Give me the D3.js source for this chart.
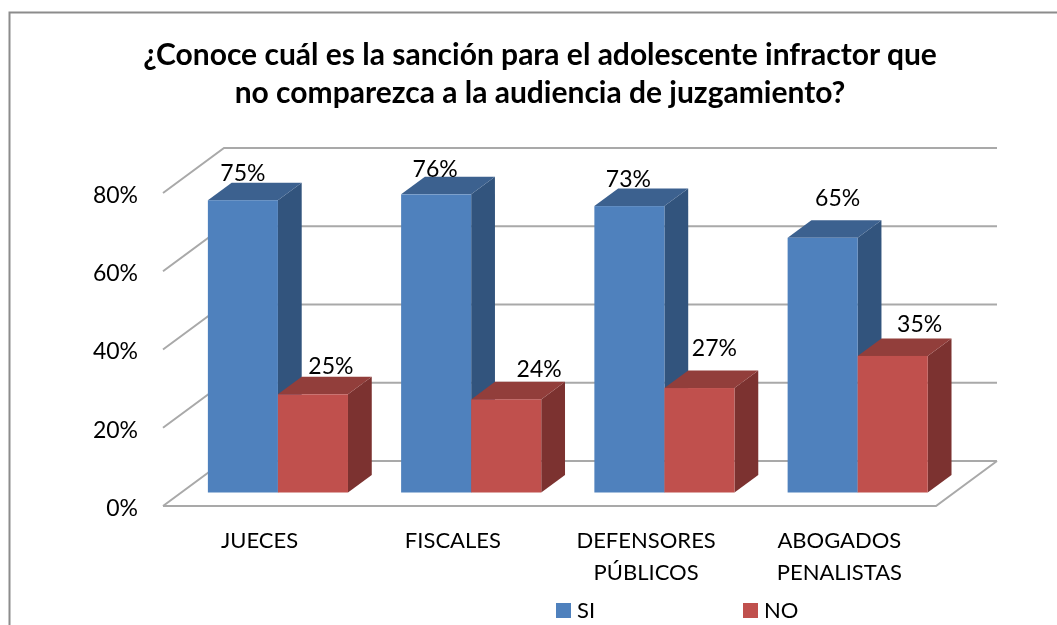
<!DOCTYPE html>
<html>
<head>
<meta charset="utf-8">
<script src="https://cdn.jsdelivr.net/npm/d3@7"></script>
<style>
    html, body { margin: 0; background: #fff; }
    svg { display: block; font-family: Lato, "Open Sans", sans-serif; filter: blur(0.4px); }
</style>
</head>
<body>
<div id="container"></div>
<script>
const titleLines = ["¿Conoce cuál es la sanción para el adolescente infractor que",
    "no comparezca a la audiencia de juzgamiento?"];
const categories = ["JUECES", "FISCALES", "DEFENSORES PÚBLICOS", "ABOGADOS PENALISTAS"];
const categoryLines = [["JUECES"], ["FISCALES"], ["DEFENSORES", "PÚBLICOS"], ["ABOGADOS", "PENALISTAS"]];
const seriesNames = ["SI", "NO"];
// the labels show them rounded
const siValues = [74.7, 76.2, 73.2, 65.1];
const noValues = [25.1, 23.8, 26.7, 34.9];
const tickValues = [0, 20, 40, 60, 80];

// colours per series: front, top, side
const faces = {
    SI: ["#4f81bd", "#3c618f", "#32547d"],
    NO: ["#c0504d", "#923e3b", "#7c3230"]
};

// labels were moved by hand in the original, so each one has its own nudge from the bar top
const labelNudge = {
    SI: [[35, -18], [34, -18], [34, -20], [50, -32]],
    NO: [[53, -21], [68, -22], [50, -31], [62, -24]]
};

const width = 1057, height = 625;
const x0 = 163, x1 = 936, y0 = 506, y80 = 193;
const depthX = 61, depthY = 45;
const barFront = 0.30, barBack = 0.69;

const x = d3.scaleBand().domain(categories).range([x0, x1]);
const y = d3.scaleLinear().domain([0, 80]).range([y0, y80]);

// d is the position in the depth of the floor, 0 front and 1 back
function px(v, d) { return v + d * depthX; }
function py(v, d) { return y(v) - d * depthY; }

function poly(points) {
    return points.map(p => p.join(",")).join(" ");
}

const svg = d3.select("div#container").append("svg")
    .attr("width", width)
    .attr("height", height)
    .attr("viewBox", [0, 0, width, height]);

svg.append("path")
    .attr("d", "M9.5,625V12.5H1057")
    .attr("fill", "none")
    .attr("stroke", "#8c8c8c")
    .attr("stroke-width", 2);

svg.append("g")
    .attr("font-size", 30)
    .attr("font-weight", 700)
    .attr("text-anchor", "middle")
    .selectAll("text")
    .data(titleLines)
    .join("text")
    .attr("x", 540)
    .attr("y", (d, i) => 65 + i * 38)
    .text(d => d);

const grid = svg.append("g")
    .attr("fill", "none")
    .attr("stroke", "#a9a9a9")
    .attr("stroke-width", 2);

grid.selectAll("polyline")
    .data(tickValues)
    .join("polyline")
    .attr("points", d => poly([[px(x0, 0), py(d, 0)], [px(x0, 1), py(d, 1)], [px(x1, 1), py(d, 1)]]));

// floor front edge and right side
grid.append("polyline")
    .attr("points", poly([[px(x0, 0), py(0, 0)], [px(x1, 0), py(0, 0)], [px(x1, 1), py(0, 1)]]));

const axisY = d3.axisLeft(y)
    .tickValues(tickValues)
    .tickFormat(d => d + "%")
    .tickSize(0)
    .tickPadding(25);

svg.append("g")
    .attr("transform", `translate(${x0},2)`)
    .call(axisY)
    .call(g => g.select(".domain").remove())
    .selectAll("text")
    .attr("font-family", "Lato, 'Open Sans', sans-serif")
    .attr("font-size", 23)
    .attr("fill", "#000");

const catLabels = svg.append("g")
    .attr("font-size", 22)
    .attr("text-anchor", "middle")
    .selectAll("text")
    .data(categories)
    .join("text")
    .attr("x", d => x(d) + x.bandwidth() / 2);

catLabels.selectAll("tspan")
    .data((d, i) => categoryLines[i])
    .join("tspan")
    .attr("x", function () { return this.parentNode.getAttribute("x"); })
    .attr("y", (d, i) => 548 + i * 32)
    .text(d => d);

const bars = x.bandwidth() * 0.725 / 2;

seriesNames.forEach((name, s) => {
    const values = s === 0 ? siValues : noValues;
    const color = faces[name];
    const g = svg.append("g").selectAll("g")
        .data(categories)
        .join("g");

    const left = d => x(d) + x.bandwidth() / 2 - bars + s * bars;
    const value = (d, i) => values[i];

    g.append("polygon")
        .attr("fill", color[2])
        .attr("points", (d, i) => {
            const a = left(d) + bars, v = value(d, i);
            return poly([[px(a, barFront), py(0, barFront)], [px(a, barBack), py(0, barBack)],
                [px(a, barBack), py(v, barBack)], [px(a, barFront), py(v, barFront)]]);
        });

    g.append("polygon")
        .attr("fill", color[1])
        .attr("points", (d, i) => {
            const a = left(d), b = a + bars, v = value(d, i);
            return poly([[px(a, barFront), py(v, barFront)], [px(a, barBack), py(v, barBack)],
                [px(b, barBack), py(v, barBack)], [px(b, barFront), py(v, barFront)]]);
        });

    g.append("rect")
        .attr("fill", color[0])
        .attr("x", d => px(left(d), barFront))
        .attr("width", bars)
        .attr("y", (d, i) => py(value(d, i), barFront))
        .attr("height", (d, i) => py(0, barFront) - py(value(d, i), barFront));
});

seriesNames.forEach((name, s) => {
    const values = s === 0 ? siValues : noValues;
    svg.append("g")
        .attr("font-size", 23)
        .attr("text-anchor", "middle")
        .selectAll("text")
        .data(values)
        .join("text")
        .attr("x", (d, i) => px(x(categories[i]) + x.bandwidth() / 2 - bars + s * bars, barFront) + labelNudge[name][i][0])
        .attr("y", (d, i) => py(Math.round(d), barFront) + labelNudge[name][i][1])
        .text(d => Math.round(d) + "%");
});

const legend = svg.append("g")
    .selectAll("g")
    .data(seriesNames)
    .join("g")
    .attr("transform", (d, i) => `translate(${556 + i * 187},0)`);

legend.append("rect")
    .attr("y", 603)
    .attr("width", 15)
    .attr("height", 15)
    .attr("fill", d => faces[d][0]);

legend.append("text")
    .attr("x", 21)
    .attr("y", 618)
    .attr("font-size", 22)
    .text(d => d);
</script>
</body>
</html>
